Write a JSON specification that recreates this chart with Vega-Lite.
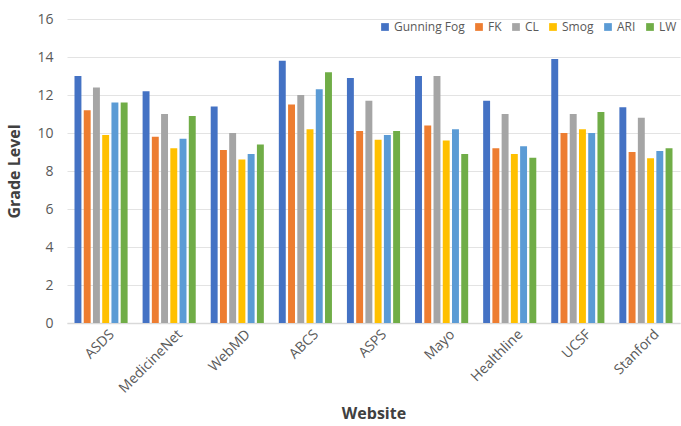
{
  "$schema": "https://vega.github.io/schema/vega-lite/v6.json",
  "width": 613,
  "height": 304,
  "autosize": {"type": "none"},
  "padding": {"left": 67, "top": 19, "right": 1, "bottom": 103},
  "background": "white",
  "config": {
    "view": {"stroke": null},
    "font": "Open Sans",
    "axis": {"labelColor": "#595959", "titleColor": "#404040", "labelFont": "Open Sans", "titleFont": "Open Sans"}
  },
  "data": {
    "values": [
      {"site": "ASDS", "metric": "Gunning Fog", "v": 13.0},
      {"site": "ASDS", "metric": "FK", "v": 11.2},
      {"site": "ASDS", "metric": "CL", "v": 12.4},
      {"site": "ASDS", "metric": "Smog", "v": 9.9},
      {"site": "ASDS", "metric": "ARI", "v": 11.6},
      {"site": "ASDS", "metric": "LW", "v": 11.6},
      {"site": "MedicineNet", "metric": "Gunning Fog", "v": 12.2},
      {"site": "MedicineNet", "metric": "FK", "v": 9.8},
      {"site": "MedicineNet", "metric": "CL", "v": 11.0},
      {"site": "MedicineNet", "metric": "Smog", "v": 9.2},
      {"site": "MedicineNet", "metric": "ARI", "v": 9.7},
      {"site": "MedicineNet", "metric": "LW", "v": 10.9},
      {"site": "WebMD", "metric": "Gunning Fog", "v": 11.4},
      {"site": "WebMD", "metric": "FK", "v": 9.1},
      {"site": "WebMD", "metric": "CL", "v": 10.0},
      {"site": "WebMD", "metric": "Smog", "v": 8.6},
      {"site": "WebMD", "metric": "ARI", "v": 8.9},
      {"site": "WebMD", "metric": "LW", "v": 9.4},
      {"site": "ABCS", "metric": "Gunning Fog", "v": 13.8},
      {"site": "ABCS", "metric": "FK", "v": 11.5},
      {"site": "ABCS", "metric": "CL", "v": 12.0},
      {"site": "ABCS", "metric": "Smog", "v": 10.2},
      {"site": "ABCS", "metric": "ARI", "v": 12.3},
      {"site": "ABCS", "metric": "LW", "v": 13.2},
      {"site": "ASPS", "metric": "Gunning Fog", "v": 12.9},
      {"site": "ASPS", "metric": "FK", "v": 10.1},
      {"site": "ASPS", "metric": "CL", "v": 11.7},
      {"site": "ASPS", "metric": "Smog", "v": 9.65},
      {"site": "ASPS", "metric": "ARI", "v": 9.9},
      {"site": "ASPS", "metric": "LW", "v": 10.1},
      {"site": "Mayo", "metric": "Gunning Fog", "v": 13.0},
      {"site": "Mayo", "metric": "FK", "v": 10.4},
      {"site": "Mayo", "metric": "CL", "v": 13.0},
      {"site": "Mayo", "metric": "Smog", "v": 9.6},
      {"site": "Mayo", "metric": "ARI", "v": 10.2},
      {"site": "Mayo", "metric": "LW", "v": 8.9},
      {"site": "Healthline", "metric": "Gunning Fog", "v": 11.7},
      {"site": "Healthline", "metric": "FK", "v": 9.2},
      {"site": "Healthline", "metric": "CL", "v": 11.0},
      {"site": "Healthline", "metric": "Smog", "v": 8.9},
      {"site": "Healthline", "metric": "ARI", "v": 9.3},
      {"site": "Healthline", "metric": "LW", "v": 8.7},
      {"site": "UCSF", "metric": "Gunning Fog", "v": 13.9},
      {"site": "UCSF", "metric": "FK", "v": 10.0},
      {"site": "UCSF", "metric": "CL", "v": 11.0},
      {"site": "UCSF", "metric": "Smog", "v": 10.2},
      {"site": "UCSF", "metric": "ARI", "v": 10.0},
      {"site": "UCSF", "metric": "LW", "v": 11.1},
      {"site": "Stanford", "metric": "Gunning Fog", "v": 11.35},
      {"site": "Stanford", "metric": "FK", "v": 9.0},
      {"site": "Stanford", "metric": "CL", "v": 10.8},
      {"site": "Stanford", "metric": "Smog", "v": 8.67},
      {"site": "Stanford", "metric": "ARI", "v": 9.05},
      {"site": "Stanford", "metric": "LW", "v": 9.2}
    ]
  },
  "mark": {"type": "bar"},
  "encoding": {
    "x": {
      "field": "site", "type": "nominal", "sort": null,
      "scale": {"paddingInner": 0.22, "paddingOuter": 0.11},
      "axis": {"title": "Website", "titleFontSize": 16, "titleFontWeight": "bold", "titlePadding": 10,
               "labelAngle": -45, "labelFontSize": 14, "labelPadding": 4, "labelOffset": 6, "ticks": false,
               "domainColor": "#D9D9D9", "domainWidth": 1.5}
    },
    "xOffset": {
      "field": "metric", "type": "nominal", "sort": ["Gunning Fog", "FK", "CL", "Smog", "ARI", "LW"],
      "scale": {"paddingInner": 0.25}
    },
    "y": {
      "field": "v", "type": "quantitative",
      "scale": {"domain": [0, 16]},
      "axis": {"title": "Grade Level", "titleFontSize": 16, "titleFontWeight": "bold", "titlePadding": 14,
               "values": [0, 2, 4, 6, 8, 10, 12, 14, 16], "labelFontSize": 14, "labelPadding": 14,
               "domain": false, "ticks": false, "gridColor": "#E3E3E3"}
    },
    "color": {
      "field": "metric", "type": "nominal", "sort": ["Gunning Fog", "FK", "CL", "Smog", "ARI", "LW"],
      "scale": {"domain": ["Gunning Fog", "FK", "CL", "Smog", "ARI", "LW"],
                "range": ["#4472C4", "#ED7D31", "#A5A5A5", "#FFC000", "#5B9BD5", "#70AD47"]},
      "legend": {"title": null, "orient": "none", "legendX": 312, "legendY": 2, "direction": "horizontal",
                 "symbolType": "square", "symbolSize": 60, "labelFontSize": 12, "labelColor": "#595959",
                 "symbolStrokeWidth": 0, "columnPadding": 8, "symbolOffset": 0, "labelOffset": 3}
    }
  }
}
